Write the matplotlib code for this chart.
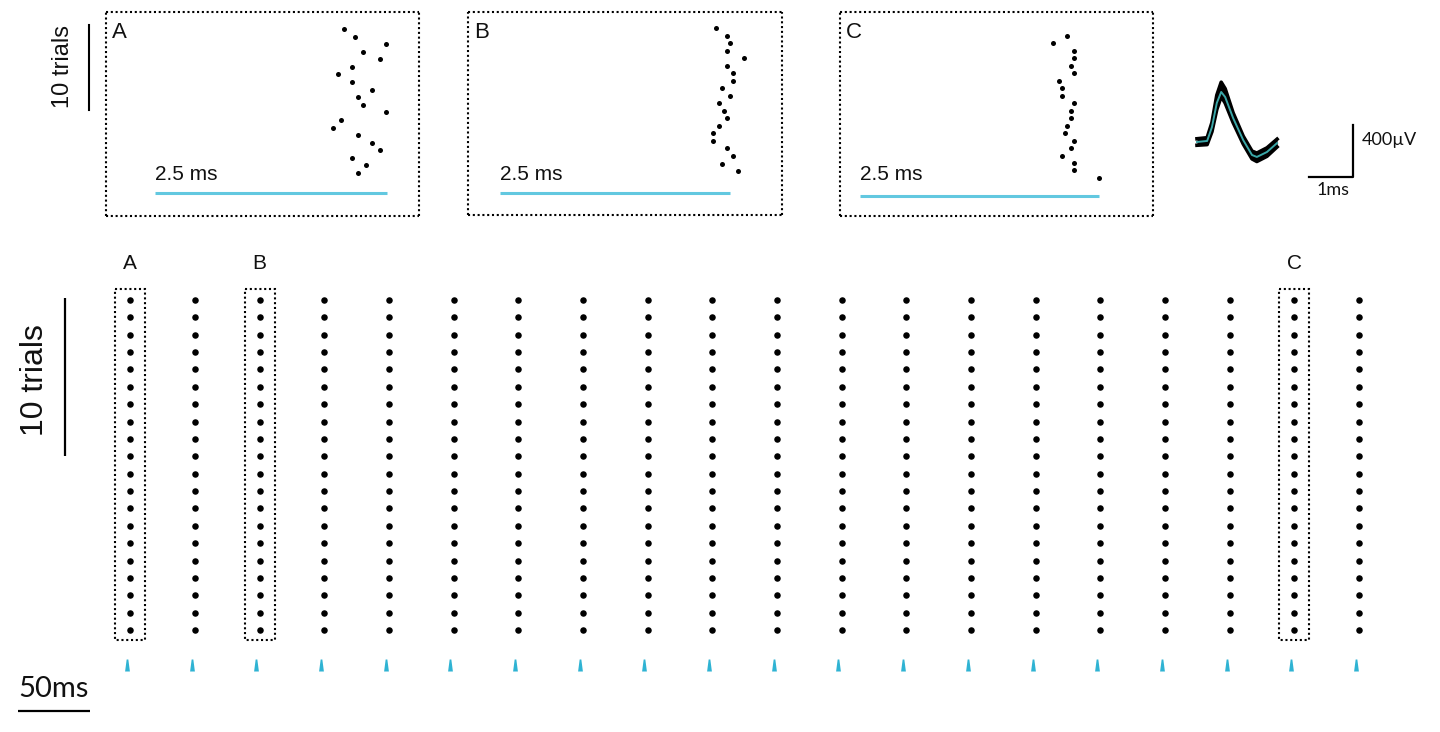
import matplotlib
matplotlib.use("Agg")
import matplotlib.pyplot as plt
from matplotlib.patches import Rectangle
from matplotlib.path import Path

# ---------------- data ----------------
# stimulus onset times of the pulse train (ms)
stim_times_ms = [0, 45, 90, 135, 180, 225, 270, 315, 360, 405,
                 450, 495, 540, 585, 630, 675, 720, 765, 810, 855]
trials = list(range(1, 21))
spike_latency_ms = 2.2          # latency of the evoked spike in the long raster
boxed_columns = [0, 2, 18]
boxed_labels = ["A", "B", "C"]

# spike latencies (ms) for the three zoomed-in pulses, one per trial
spikes_A = [2.04, 2.16, 2.49, 2.24, 2.42, 2.12, 1.97, 2.12, 2.34, 2.19,
            2.24, 2.49, 2.00, 1.92, 2.19, 2.34, 2.42, 2.12, 2.27, 2.19]
spikes_B = [2.35, 2.47, 2.50, 2.47, 2.65, 2.47, 2.53, 2.53, 2.41, 2.50,
            2.38, 2.43, 2.47, 2.38, 2.32, 2.32, 2.47, 2.53, 2.41, 2.59]
spikes_C = [2.17, 2.02, 2.24, 2.24, 2.21, 2.24, 2.08, 2.11, 2.11, 2.24,
            2.21, 2.21, 2.17, 2.14, 2.24, 2.21, 2.11, 2.24, 2.24, 2.50]
panel_labels = ["A", "B", "C"]
window_ms = 2.5

# spike waveform (ms, µV): mean and envelope of overlaid traces
wave_t = [0.00, 0.23, 0.34, 0.45, 0.55, 0.64, 0.82, 1.05, 1.25, 1.36, 1.59, 1.82]
wave_mean = [0, 8, 115, 300, 385, 346, 185, 15, -100, -115, -77, -8]
wave_upper = [25, 33, 150, 360, 460, 410, 225, 45, -70, -85, -45, 22]
wave_lower = [-25, -20, 80, 250, 350, 300, 150, -15, -130, -150, -110, -38]

# ---------------- style ----------------
W, H = 1440, 732
CYAN = "#62c8e0"
TICK_CYAN = "#2fb3d3"
ARIAL = ["Liberation Sans", "DejaVu Sans"]
MYRIAD = ["Lato", "DejaVu Sans"]
DOT = (0, (1, 1.3))

fig = plt.figure(figsize=(W / 100, H / 100), dpi=100)


def px_axes(x0, y0, x1, y1):
    ax = fig.add_axes([x0 / W, 1 - y1 / H, (x1 - x0) / W, (y1 - y0) / H])
    ax.set_xticks([])
    ax.set_yticks([])
    return ax


def fxy(x, y):
    return x / W, 1 - y / H


# ---------------- long raster ----------------
x_ref, ppm = 127.0, 64.68 / 45.0      # px of first stimulus, px per ms
y_ref, ppt = 300.0, 17.37             # px of trial 1, px per trial
axr = px_axes(0, 240, W, H)
axr.set_xlim((0 - x_ref) / ppm, (W - x_ref) / ppm)
axr.set_ylim(1 + (H - y_ref) / ppt, 1 + (240 - y_ref) / ppt)
for s in axr.spines.values():
    s.set_visible(False)

xs, ys = [], []
for t in stim_times_ms:
    for tr in trials:
        xs.append(t + spike_latency_ms)
        ys.append(tr)
axr.scatter(xs, ys, s=22, color="black", linewidths=0, zorder=3)

stim_marker = Path([(-0.4, -1), (0.4, -1), (0.14, 1), (-0.14, 1), (-0.4, -1)],
                   [Path.MOVETO, Path.LINETO, Path.LINETO, Path.LINETO, Path.CLOSEPOLY])
stim_y = 1 + (665 - y_ref) / ppt
axr.scatter(stim_times_ms, [stim_y] * len(stim_times_ms), marker=stim_marker,
            s=75, color=TICK_CYAN, linewidths=0, zorder=3)

half_w = 15 / ppm
for ci, lab in zip(boxed_columns, boxed_labels):
    cx = stim_times_ms[ci] + spike_latency_ms
    top = 1 + (289 - y_ref) / ppt
    bot = 1 + (640 - y_ref) / ppt
    axr.add_patch(Rectangle((cx - half_w, top), 2 * half_w, bot - top, fill=False,
                            ec="black", lw=1.5, ls=DOT, zorder=2))
    axr.text(cx, 1 + (263 - y_ref) / ppt, lab, ha="center", va="center",
             fontsize=15, family=ARIAL, color="#111111")

# 10 trials scale bar
bar_x = (65 - x_ref) / ppm
axr.plot([bar_x, bar_x], [trials[0] - 0.1, trials[9]], color="black", lw=1.6,
         solid_capstyle="butt")
axr.text((35 - x_ref) / ppm, (trials[0] + trials[9]) / 2 + 0.1, "10 trials",
         rotation=90, ha="center", va="center", fontsize=23, family=ARIAL,
         color="#111111")
# 50 ms scale bar
sb0 = (18 - x_ref) / ppm
axr.plot([sb0, sb0 + 50], [1 + (711 - y_ref) / ppt] * 2, color="black", lw=1.6,
         solid_capstyle="butt")
axr.text(sb0 + 25, 1 + (689 - y_ref) / ppt, "50ms", ha="center", va="center",
         fontsize=21, family=MYRIAD, color="#111111")

# ---------------- zoomed panels ----------------
panels = [
    # box px (x0, y0, x1, y1), px of 0 ms, px per ms, px of trial1, px per trial, line y px
    ((106, 12, 419, 216), 155.0, 92.8, 29.0, 7.58, 193.0, spikes_A),
    ((468, 12, 782, 215), 500.0, 92.0, 28.0, 7.53, 193.0, spikes_B),
    ((840, 12, 1153, 216), 860.0, 95.6, 36.0, 7.47, 196.0, spikes_C),
]
for (box, x0ms, pxms, y1tr, pxtr, liney, spikes), lab in zip(panels, panel_labels):
    bx0, by0, bx1, by1 = box
    ax = px_axes(bx0, by0, bx1, by1)
    ax.set_xlim((bx0 - x0ms) / pxms, (bx1 - x0ms) / pxms)
    ax.set_ylim(1 + (by1 - y1tr) / pxtr, 1 + (by0 - y1tr) / pxtr)
    for s in ax.spines.values():
        s.set_linestyle(DOT)
        s.set_linewidth(1.5)
        s.set_capstyle("butt")
    ax.scatter(spikes, trials, s=13, color="black", linewidths=0, zorder=3)
    ly = 1 + (liney - y1tr) / pxtr
    ax.plot([0, window_ms], [ly, ly], color=CYAN, lw=2.2, solid_capstyle="butt")
    ax.text(0, 1 + (174 - y1tr) / pxtr, "2.5 ms", ha="left", va="center",
            fontsize=15, family=ARIAL, color="#111111")
    ax.text((bx0 + 6 - x0ms) / pxms, 1 + (33 - y1tr) / pxtr, lab, ha="left",
            va="center", fontsize=16, family=ARIAL, color="#111111")

# top 10 trials scale bar
fig.add_artist(plt.Line2D([89 / W, 89 / W], [1 - 25 / H, 1 - 110 / H],
                          color="black", lw=1.5))
fig.text(*fxy(63, 67), "10 trials", rotation=90, ha="center", va="center",
         fontsize=17, family=ARIAL, color="#111111")

# ---------------- waveform ----------------
t_ref, pxms_w = 1197.0, 44.0
v_ref, pxuv = 142.0, 0.13
axw = px_axes(1180, 60, W, 210)
axw.set_xlim((1180 - t_ref) / pxms_w, (W - t_ref) / pxms_w)
axw.set_ylim((v_ref - 210) / pxuv, (v_ref - 60) / pxuv)
for s in axw.spines.values():
    s.set_visible(False)
axw.fill_between(wave_t, wave_lower, wave_upper, color="black", lw=0)
axw.plot(wave_t, wave_upper, color="black", lw=2.6, solid_joinstyle="round")
axw.plot(wave_t, wave_lower, color="black", lw=2.6, solid_joinstyle="round")
axw.plot(wave_t, wave_mean, color="#3aa7a8", lw=1.4, solid_joinstyle="round")
# scale bars 1 ms / 400 µV
sx = (1353 - t_ref) / pxms_w
sy = (v_ref - 177) / pxuv
axw.plot([sx - 1, sx, sx], [sy, sy, sy + 400], color="black", lw=1.6)
axw.text(sx + 0.2, sy + 285, "400µV", ha="left", va="center", fontsize=13,
         family=MYRIAD, color="#111111")
axw.text(sx - 0.45, sy - 100, "1ms", ha="center", va="center", fontsize=13,
         family=MYRIAD, color="#111111")

fig.savefig("out.png", dpi=100, facecolor="white")
